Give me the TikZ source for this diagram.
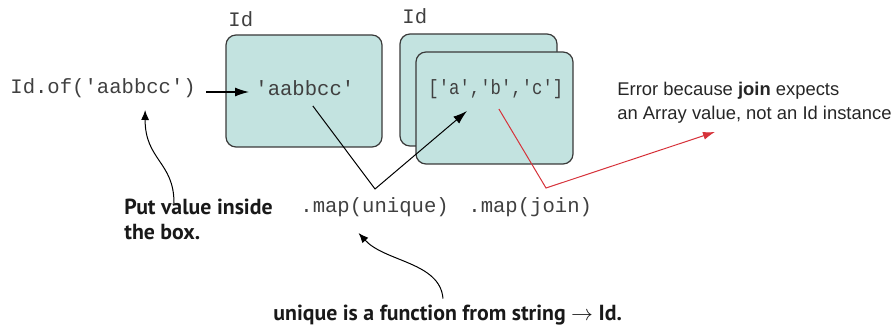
\documentclass[tikz,border=0pt]{standalone}
\usepackage{fontspec}
\setmonofont{Liberation Mono}
\setsansfont{Liberation Sans}
\newfontfamily\notefont{PT Sans}
\usetikzlibrary{arrows.meta}
\definecolor{boxfill}{HTML}{C3E3E0}
\definecolor{boxline}{HTML}{3A3A3A}
\definecolor{errred}{HTML}{D6323A}
\begin{document}
\begin{tikzpicture}[x=0.5pt,y=-0.5pt,>={Latex[length=7pt,width=4.5pt]},
    code/.style={font=\fontsize{10.3}{12}\ttfamily,text=black!75,inner sep=0pt},
    note/.style={font=\fontsize{10.9}{12.5}\notefont\bfseries,text=black!90,inner sep=0pt,align=left},
    idbox/.style={draw=boxline,fill=boxfill,line width=0.6pt,rounded corners=5pt}]
    \useasboundingbox (0,0) rectangle (895,331);

    % Id boxes
    \draw[idbox] (226,35) rectangle (382,147);
    \draw[idbox] (400,34) rectangle (557,146);
    \draw[idbox] (416,52) rectangle (573,164);
    \node[code,anchor=west] (id1) at (228,19) {Id};
    \node[code,anchor=west] (id2) at (402,16) {Id};

    % values
    \node[code,anchor=west] (idof) at (10,88) {Id.of('aabbcc')};
    \node[code,anchor=west] (val) at (255,88) {'aabbcc'};
    \node[code,anchor=west] (arr) at (428,89) {\scalebox{0.84}[1]{['a','b','c']}};
    \draw[->,line width=0.6pt] ([xshift=5pt,yshift=-2pt]idof.east) -- ([xshift=-3pt,yshift=-2pt]val.west);

    % map calls
    \node[code,anchor=west] (mapu) at (300,207) {.map(unique)};
    \node[code,anchor=west] (mapj) at (468,207) {.map(join)};
    \coordinate (vtip) at (375,189);
    \draw[->,line width=0.5pt] ([xshift=4pt,yshift=-5pt]val.south) -- (vtip) -- ([xshift=19.5pt,yshift=-6pt]arr.south west);

    % error
    \node[font=\fontsize{9.2}{12}\sffamily,text=black!85,inner sep=0pt,align=left,anchor=north west] (err) at (617,82)
        {Error because \textbf{join} expects\\an Array value, not an Id instance};
    \coordinate (rtip) at (546,188);
    \draw[->,draw=errred,line width=0.5pt,>={Latex[length=6pt,width=4pt]},errred] ([xshift=1.5pt,yshift=-5pt]arr.south) -- (rtip) -- ([xshift=49pt,yshift=-4pt]err.south west);

    % notes
    \node[note,anchor=north west] (put) at (124,199) {Put value inside\\the box.};
    \draw[->,line width=0.5pt,>={Latex[length=5pt,width=4pt]}] ([xshift=25pt,yshift=-2pt]put.north west) .. controls (174,162) and (145,160) .. ([xshift=21pt,yshift=-6pt]idof.south);
    \node[note,anchor=west] (uniq) at (273,315) {unique is a function from string $\to$ Id.};
    \draw[->,line width=0.5pt,>={Latex[length=5pt,width=4pt]}] ([xshift=85pt,yshift=3pt]uniq.north west) .. controls (440,262) and (385,262) .. ([xshift=-8pt,yshift=-8pt]mapu.south);
\end{tikzpicture}
\end{document}
